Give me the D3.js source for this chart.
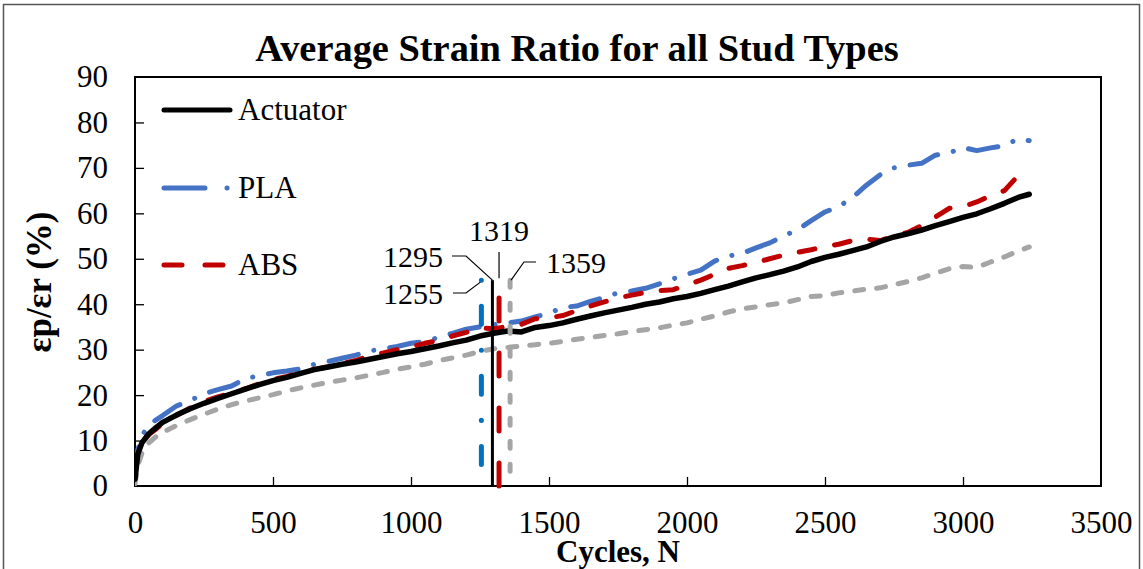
<!DOCTYPE html>
<html>
<head>
<meta charset="utf-8">
<script src="https://cdn.jsdelivr.net/npm/d3@7"></script>
<style>
  body { margin: 0; background: #fff; }
  svg text { font-family: "Liberation Serif", "Times New Roman", serif; fill: #000; }
</style>
</head>
<body>
<svg id="chart" width="1143" height="569"></svg>
<script>
// cycles at which the averaged ratios were read
const cycles = [0, 10, 25, 50, 75, 100, 150, 200, 250, 300, 350, 400, 450, 500, 550, 600, 650, 700, 750, 800,
  850, 900, 950, 1000, 1050, 1100, 1150, 1200, 1250, 1300, 1350, 1400, 1450, 1500, 1550, 1600, 1650, 1700,
  1750, 1800, 1850, 1900, 1950, 2000, 2050, 2100, 2150, 2200, 2250, 2300, 2350, 2400, 2450, 2500, 2550,
  2600, 2650, 2700, 2750, 2800, 2850, 2900, 2950, 3000, 3050, 3100, 3150, 3200, 3240];

const actuator = [1.5, 7, 9.5, 11.5, 12.8, 14, 15.6, 17, 18.2, 19.3, 20.3, 21.3, 22.3, 23.2, 23.9, 24.8, 25.6,
  26.2, 26.8, 27.3, 27.9, 28.5, 29.1, 29.6, 30.2, 30.8, 31.5, 32.1, 33, 33.6, 34.1, 33.9, 34.9, 35.3, 35.9,
  36.7, 37.4, 38.1, 38.7, 39.3, 40, 40.5, 41.2, 41.7, 42.4, 43.2, 44, 44.9, 45.8, 46.5, 47.3, 48.2, 49.4, 50.3,
  51, 51.8, 52.6, 53.8, 54.8, 55.5, 56.3, 57.3, 58.2, 59.1, 59.9, 61, 62.2, 63.5, 64.2];

const pla = [2, 8, 11, 13.5, 14.5, 15.5, 17.6, 18.8, 20.3, 21.2, 22, 23.6, 24.3, 24.9, 25.3, 25.8, 26.8, 27.4,
  28.1, 28.8, 29.7, 30.2, 30.7, 31.4, 31.8, 32.7, 33.6, 34.5, 35, 35.5, 35.9, 36.3, 37.2, 38, 39.3, 39.6,
  40.6, 41.5, 42.5, 42.9, 43.5, 44.5, 45.6, 46.6, 47.5, 49.5, 50.6, 51.2, 52.4, 53.5, 55, 56.4, 58.4, 60.3,
  61.5, 63.5, 66.2, 68.5, 70, 70.6, 71, 72.8, 73.3, 74.5, 73.8, 74.4, 74.9, 76.4, 76];

const abs = [3.5, 7.5, 9.5, 11.3, 12.5, 13.7, 15.5, 17.2, 18.6, 19.6, 20.5, 21.4, 22.5, 23.4, 24.1, 24.9, 25.7,
  26.2, 27, 27.6, 28.7, 29.3, 30, 30.6, 31.4, 32, 33, 33.8, 34.8, 34.6, 35.1, 35.6, 36.8, 37, 37.5, 38.6,
  39.6, 40.5, 41.4, 42, 42.6, 43, 43.2, 44.2, 45.3, 46.6, 47.9, 48.5, 49.2, 50, 50.8, 51.4, 52, 52.7, 53.2,
  54, 54.3, 54, 55, 55.8, 57.3, 59.2, 61.1, 61.5, 62.5, 63.9, 65, 68.3, 67.5];

// grey series (not listed in the legend)
const other = [0.5, 4.5, 7.2, 9.5, 10.8, 11.8, 13.3, 14.6, 15.8, 16.9, 17.9, 18.7, 19.4, 20.1, 20.9, 21.6,
  22.2, 22.8, 23.3, 23.8, 24.4, 25, 25.7, 26.2, 26.8, 27.6, 28.2, 28.8, 29.6, 30.2, 30.5, 30.8, 31.1, 31.4,
  31.8, 32.3, 32.7, 33.1, 33.5, 34, 34.4, 34.8, 35.4, 35.9, 36.7, 37.4, 38.3, 39, 39.4, 39.9, 40.3, 41, 41.7,
  41.9, 42.5, 42.9, 43.3, 43.6, 44.3, 45, 45.8, 46.8, 47.8, 48.3, 48.1, 49.3, 50.4, 51.7, 52.6];

const xTicks = [0, 500, 1000, 1500, 2000, 2500, 3000, 3500];
const yTicks = [0, 10, 20, 30, 40, 50, 60, 70, 80, 90];

// failure cycles marked with vertical lines
const markCycles = [1255, 1295, 1319, 1359];
const markTop = 45.3;

const svg = d3.select('#chart');
const pLeft = 135, pRight = 1101, pTop = 77, pBottom = 486;

const x = d3.scaleLinear().domain([0, 3500]).range([pLeft, pRight]);
const y = d3.scaleLinear().domain([0, 90]).range([pBottom, pTop]);

// outer frame
svg.append('rect')
  .attr('x', 3.5).attr('y', 4.5)
  .attr('width', 1136).attr('height', 600)
  .attr('fill', 'none')
  .attr('stroke', '#555')
  .attr('stroke-width', 1.5);

svg.append('text')
  .attr('x', 577).attr('y', 61)
  .attr('text-anchor', 'middle')
  .attr('font-size', 38.4)
  .attr('font-weight', 'bold')
  .text('Average Strain Ratio for all Stud Types');

svg.append('defs').append('clipPath').attr('id', 'plotclip')
  .append('rect')
  .attr('x', pLeft).attr('y', pTop)
  .attr('width', pRight - pLeft).attr('height', pBottom - pTop);

// axes, ticks drawn inward
svg.append('g')
  .attr('transform', 'translate(0,' + pBottom + ')')
  .call(d3.axisBottom(x).tickValues(xTicks).tickFormat(d3.format('d')).tickSizeInner(-9).tickSizeOuter(0))
  .call(g => g.select('.domain').remove())
  .call(g => g.selectAll('.tick line').attr('stroke-width', 1.3).filter(d => d == 0 || d == 3500).remove())
  .call(g => g.selectAll('.tick text').attr('font-size', 31).attr('dy', '0.71em').attr('y', 25));

svg.append('g')
  .attr('transform', 'translate(' + pLeft + ',0)')
  .call(d3.axisLeft(y).tickValues(yTicks).tickSizeInner(-9).tickSizeOuter(0))
  .call(g => g.select('.domain').remove())
  .call(g => g.selectAll('.tick line').attr('stroke-width', 1.3).filter(d => d == 0 || d == 90).remove())
  .call(g => g.selectAll('.tick text').attr('font-size', 31).attr('x', -27));

svg.append('rect')
  .attr('x', pLeft).attr('y', pTop)
  .attr('width', pRight - pLeft).attr('height', pBottom - pTop)
  .attr('fill', 'none')
  .attr('stroke', '#000')
  .attr('stroke-width', 2);

svg.append('text')
  .attr('x', 618).attr('y', 562)
  .attr('text-anchor', 'middle')
  .attr('font-size', 31)
  .attr('font-weight', 'bold')
  .text('Cycles, N');

svg.append('text')
  .attr('transform', 'translate(51,282) rotate(-90)')
  .attr('text-anchor', 'middle')
  .attr('font-size', 35)
  .attr('font-weight', 'bold')
  .text('εp/εr (%)');

// data series
const series = [
  {name: 'other', vals: other, color: '#A5A5A5', width: 5, dash: '9,13'},
  {name: 'PLA', vals: pla, color: '#4472C4', width: 5, dash: '30,16,0.1,16'},
  {name: 'ABS', vals: abs, color: '#C00000', width: 5, dash: '16,20'},
  {name: 'Actuator', vals: actuator, color: '#000000', width: 5.5, dash: null}
];

const line = d3.line()
  .x(d => x(d[0]))
  .y(d => y(d[1]));

const plot = svg.append('g').attr('clip-path', 'url(#plotclip)');
for (let s of series) {
  plot.append('path')
    .datum(cycles.map((c, i) => [c, s.vals[i]]))
    .attr('d', line)
    .attr('fill', 'none')
    .attr('stroke', s.color)
    .attr('stroke-width', s.width)
    .attr('stroke-linecap', 'round')
    .attr('stroke-linejoin', 'round')
    .attr('stroke-dasharray', s.dash);
}

// vertical failure lines
const marks = [
  {color: '#0070C0', width: 5, dash: '0.1,26,18,26', fromTop: true},
  {color: '#000000', width: 3, dash: null, fromTop: true},
  {color: '#C00000', width: 5, dash: '23,32', fromTop: false},
  {color: '#A5A5A5', width: 5, dash: '7,16', fromTop: true}
];
markCycles.forEach(function(c, i) {
  let m = marks[i];
  let y1 = m.fromTop ? y(markTop) : y(0);
  let y2 = m.fromTop ? y(0) : y(markTop);
  svg.append('line')
    .attr('x1', x(c)).attr('x2', x(c))
    .attr('y1', y1).attr('y2', y2)
    .attr('stroke', m.color)
    .attr('stroke-width', m.width)
    .attr('stroke-linecap', m.dash ? 'round' : 'butt')
    .attr('stroke-dasharray', m.dash);
});

// labels for the vertical lines with leader lines
const topY = y(markTop);
const labels = [
  {text: '1255', tx: 443, ty: 304, anchor: 'end', pts: [[453, 293], [466, 293], [x(1255) - 1, topY + 2]]},
  {text: '1295', tx: 443, ty: 267, anchor: 'end', pts: [[452, 256], [466, 256], [x(1295), topY]]},
  {text: '1319', tx: 499, ty: 241, anchor: 'middle', pts: [[x(1319), 252], [x(1319), topY - 2]]},
  {text: '1359', tx: 546, ty: 273, anchor: 'start', pts: [[536, 262], [524, 262], [x(1359) + 1, topY]]}
];
for (let l of labels) {
  svg.append('text')
    .attr('x', l.tx).attr('y', l.ty)
    .attr('text-anchor', l.anchor)
    .attr('font-size', 30)
    .text(l.text);
  svg.append('path')
    .attr('d', d3.line()(l.pts))
    .attr('fill', 'none')
    .attr('stroke', '#000')
    .attr('stroke-width', 1.2);
}

// legend
const legend = [
  {name: 'Actuator', color: '#000000', dash: null, y: 110},
  {name: 'PLA', color: '#4472C4', dash: '41,22,0.1,30', y: 188},
  {name: 'ABS', color: '#C00000', dash: '18,23', y: 265}
];
for (let item of legend) {
  svg.append('line')
    .attr('x1', 164).attr('x2', 230)
    .attr('y1', item.y).attr('y2', item.y)
    .attr('stroke', item.color)
    .attr('stroke-width', 5)
    .attr('stroke-linecap', 'round')
    .attr('stroke-dasharray', item.dash);
  svg.append('text')
    .attr('x', 238).attr('y', item.y + 10)
    .attr('font-size', 31)
    .text(item.name);
}
</script>
</body>
</html>
